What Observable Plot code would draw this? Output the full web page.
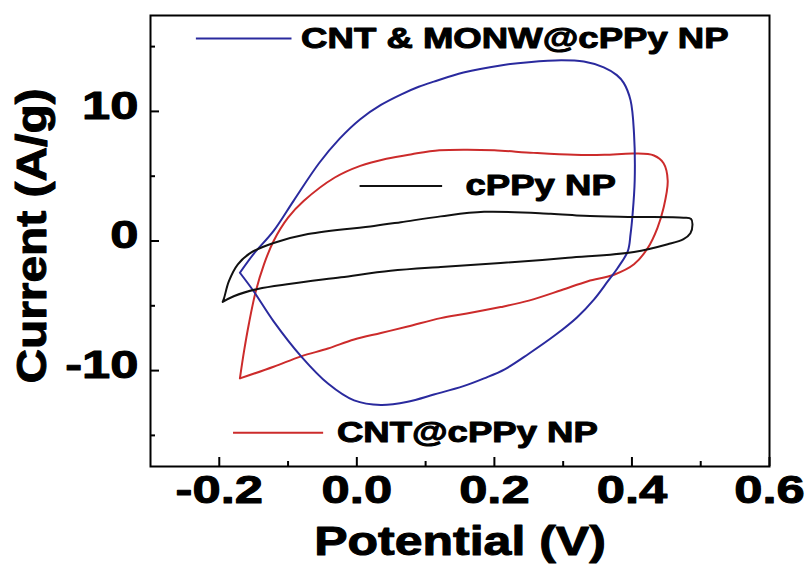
<!DOCTYPE html>
<html>
<head>
<meta charset="utf-8">
<script src="https://cdn.jsdelivr.net/npm/d3@7"></script>
<script src="https://cdn.jsdelivr.net/npm/@observablehq/plot@0.6"></script>
<style>
  html, body { margin: 0; padding: 0; background: #fff; }
  #chart { width: 805px; height: 565px; }
</style>
</head>
<body>
<div id="chart"></div>
<script>
// ---- Data ----
const seriesNames = ["CNT & MONW@cPPy NP", "cPPy NP", "CNT@cPPy NP"];

const bluePotential = [-0.170,-0.150,-0.121,-0.092,-0.055,-0.025,0.005,0.035,0.064,0.090,0.112,0.155,0.209,0.250,0.297,0.330,0.359,0.378,0.388,0.398,0.403,0.404,0.401,0.398,0.394,0.379,0.365,0.345,0.320,0.290,0.250,0.215,0.185,0.155,0.112,0.074,0.035,-0.004,-0.042,-0.081,-0.121,-0.150,-0.170];
const blueCurrent   = [-2.45,-1.0,0.78,3.1,6.0,7.9,9.4,10.5,11.3,11.9,12.3,13.0,13.55,13.8,13.95,13.85,13.4,12.8,12.2,10.85,8.3,4.67,2.1,0.54,-0.78,-2.1,-3.1,-4.5,-5.9,-7.2,-8.7,-9.9,-10.6,-11.2,-11.85,-12.4,-12.65,-12.3,-11.0,-8.9,-6.2,-3.88,-2.45];

const blackPotential = [-0.195,-0.193,-0.186,-0.173,-0.154,-0.121,-0.071,0.025,0.064,0.122,0.185,0.282,0.330,0.403,0.475,0.486,0.488,0.485,0.475,0.452,0.403,0.307,0.209,0.122,0.049,-0.023,-0.096,-0.144,-0.179,-0.195];
const blackCurrent   = [-4.7,-4.4,-3.1,-1.8,-0.9,-0.15,0.54,1.16,1.45,1.9,2.25,2.1,1.94,1.86,1.8,1.7,1.3,0.6,0.15,-0.25,-0.85,-1.3,-1.7,-2.0,-2.3,-2.8,-3.3,-3.7,-4.26,-4.7];

const redPotential = [-0.170,-0.164,-0.157,-0.147,-0.135,-0.121,-0.100,-0.077,-0.032,0.005,0.043,0.080,0.120,0.161,0.200,0.257,0.316,0.360,0.403,0.432,0.446,0.452,0.446,0.437,0.423,0.403,0.374,0.336,0.297,0.250,0.209,0.160,0.122,0.074,0.035,-0.004,-0.042,-0.081,-0.121,-0.170];
const redCurrent   = [-10.6,-8.5,-6.4,-3.9,-1.8,0.0,1.8,3.1,4.9,5.8,6.35,6.7,7.0,7.05,7.0,6.8,6.65,6.65,6.75,6.6,6.0,4.65,2.56,1.0,-0.54,-1.8,-2.6,-3.1,-3.8,-4.6,-5.1,-5.6,-5.95,-6.6,-7.1,-7.6,-8.3,-8.9,-9.7,-10.6];

const xMajorTicks = [-0.2, 0.0, 0.2, 0.4, 0.6];
const xMinorTicks = [-0.1, 0.1, 0.3, 0.5];
const yMajorTicks = [-10, 0, 10];
const yMinorTicks = [-15, -5, 5, 15];

const xTitle = "Potential (V)";
const yTitle = "Current (A/g)";

// ---- Build tables ----
const colors = {"CNT & MONW@cPPy NP": "#2a2a9e", "cPPy NP": "#111111", "CNT@cPPy NP": "#cc2b2b"};
const toRows = (name, xs, ys) => xs.map((x, i) => ({series: name, x, y: ys[i]}));
const blue = toRows(seriesNames[0], bluePotential, blueCurrent);
const black = toRows(seriesNames[1], blackPotential, blackCurrent);
const red = toRows(seriesNames[2], redPotential, redCurrent);

// legend placement (in-plot annotation anchors, data units)
const legendX1 = [-0.234, 0.004, -0.180];
const legendX2 = [-0.095, 0.124, -0.049];
const legendTextX = [-0.081, 0.158, -0.029];
const legendY = [15.62, 4.25, -14.8];
const legend = seriesNames.map((name, i) => ({name, x1: legendX1[i], x2: legendX2[i], tx: legendTextX[i], y: legendY[i]}));

const plot = Plot.plot({
  width: 805,
  height: 565,
  marginLeft: 150,
  marginRight: 36,
  marginTop: 15,
  marginBottom: 99,
  x: {domain: [-0.3, 0.6]},
  y: {domain: [-17.4, 17.4]},
  style: {fontFamily: "'Liberation Sans', Arial, sans-serif", fontWeight: "bold", color: "black", background: "white", overflow: "visible"},
  marks: [
    Plot.line(red, {x: "x", y: "y", stroke: colors[seriesNames[2]], strokeWidth: 2, curve: "catmull-rom"}),
    Plot.line(blue, {x: "x", y: "y", stroke: colors[seriesNames[0]], strokeWidth: 2, curve: "catmull-rom"}),
    Plot.line(black, {x: "x", y: "y", stroke: colors[seriesNames[1]], strokeWidth: 2, curve: "catmull-rom"}),
    // ticks (inward)
    Plot.axisX(xMajorTicks, {tickSize: 9, dy: -9, fill: "none", strokeWidth: 2, label: null}),
    Plot.axisX(xMinorTicks, {tickSize: 5, dy: -5, fill: "none", strokeWidth: 2, label: null}),
    Plot.axisY(yMajorTicks, {tickSize: 9, dx: 9, fill: "none", strokeWidth: 2, label: null}),
    Plot.axisY(yMinorTicks, {tickSize: 5, dx: 5, fill: "none", strokeWidth: 2, label: null}),
    // tick labels
    Plot.axisX(xMajorTicks, {tickSize: 0, tickPadding: 9, fontSize: 39, tickFormat: d => d.toFixed(1), label: null}),
    Plot.axisY(yMajorTicks, {tickSize: 0, tickPadding: 12, fontSize: 39, dy: -5, tickFormat: d => String(d), label: null}),
    Plot.frame({stroke: "black", strokeWidth: 2}),
    // axis titles
    Plot.text([xTitle], {text: d => d, frameAnchor: "bottom", textAnchor: "middle", dy: 76, fontSize: 40, lineAnchor: "middle"}),
    Plot.text([yTitle], {text: d => d, frameAnchor: "left", textAnchor: "middle", rotate: -90, dx: -118, dy: -5, fontSize: 42, lineAnchor: "middle"}),
    // legend
    Plot.link(legend, {x1: "x1", x2: "x2", y1: "y", y2: "y", stroke: d => colors[d.name], strokeWidth: 2}),
    Plot.text(legend, {x: "tx", y: "y", text: "name", textAnchor: "start", lineAnchor: "middle", fontSize: 29})
  ]
});

document.getElementById("chart").appendChild(plot);

// horizontally widen and embolden glyphs to match the reference's heavy stretched lettering
const stretch = {"39": 1.3, "29": 1.26, "40": 1.25, "42": 1.14};
plot.querySelectorAll("text").forEach(t => {
  const holder = t.closest("[font-size]");
  const fs = holder ? holder.getAttribute("font-size") : null;
  const f = stretch[fs] || 1.2;
  const w = t.getComputedTextLength();
  if (w > 0) {
    t.setAttribute("textLength", (w * f).toFixed(1));
    t.setAttribute("lengthAdjust", "spacingAndGlyphs");
  }
  t.setAttribute("stroke", "black");
  t.setAttribute("stroke-width", "1");
  t.setAttribute("stroke-linejoin", "round");
});
</script>
</body>
</html>
